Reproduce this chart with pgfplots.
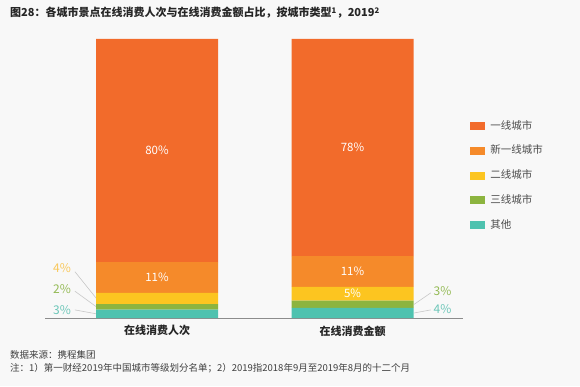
\documentclass[border=0pt]{standalone}
\usepackage{pgfplots}
\pgfplotsset{compat=1.18}
\usepackage{fontspec}
\setmainfont{Noto Sans CJK SC}
\definecolor{bgc}{HTML}{F8F8F8}
\definecolor{cA}{HTML}{F26B2B}
\definecolor{cB}{HTML}{F58A2A}
\definecolor{cC}{HTML}{FCC520}
\definecolor{cD}{HTML}{8CB43F}
\definecolor{cE}{HTML}{4EC2AF}
\definecolor{lblY}{HTML}{F8C85A}
\definecolor{lblG}{HTML}{94BA55}
\definecolor{lblT}{HTML}{6CC6B8}
\definecolor{leader}{HTML}{C8C8C8}
\tikzset{inlbl/.style={text=white, font=\fontsize{11.5}{13}\selectfont},
  outlbl/.style={font=\fontsize{12}{14}\selectfont},
  ldr/.style={draw=leader, line width=0.6pt}}
\begin{document}
\begin{tikzpicture}[x=1pt,y=1pt]
\fill[bgc] (0,0) rectangle (580,386);
\useasboundingbox (0,0) rectangle (580,386);
\node[anchor=west, inner sep=0pt, text=black!85, font=\bfseries\fontsize{11}{13}\selectfont] at (10,373) {图28：各城市景点在线消费人次与在线消费金额占比，按城市类型\textsuperscript{1}，2019\textsuperscript{2}};
\begin{axis}[
  at={(45pt,68pt)}, anchor=south west,
  scale only axis, width=418pt, height=279pt,
  xmin=-0.573, xmax=1.565, ymin=0, ymax=100,
  ybar stacked, bar width=122pt,
  axis x line*=bottom, axis y line=none,
  x axis line style={draw=black!45, line width=0.8pt, -},
  xtick={0,1}, xticklabels={在线消费人次,在线消费金额},
  major tick length=0pt,
  xticklabel style={font=\bfseries\fontsize{11}{13}\selectfont, text=black!85, yshift=-4pt},
  clip=false,
  reverse legend,
  legend cell align=left,
  legend style={at={(1.017,0.706)}, anchor=north west, draw=none, fill=none,
    inner sep=0pt, row sep=14.7pt,
    font=\fontsize{10.5}{12}\selectfont, text=black!70,
    nodes={inner xsep=5pt, inner ysep=0pt, text height=8pt, text depth=2pt}},
  legend image code/.code={\fill[#1,draw=none] (0pt,-4pt) rectangle (15pt,4pt);},
]
\addplot[fill=cE, draw=none] coordinates {(0,3) (1,3.6)};
\addlegendentry{其他}
\addplot[fill=cD, draw=none] coordinates {(0,2) (1,2.6)};
\addlegendentry{三线城市}
\addplot[fill=cC, draw=none] coordinates {(0,4) (1,5)};
\addlegendentry{二线城市}
\addplot[fill=cB, draw=none] coordinates {(0,11) (1,11)};
\addlegendentry{新一线城市}
\addplot[fill=cA, draw=none] coordinates {(0,80) (1,77.8)};
\addlegendentry{一线城市}
\coordinate (a1) at (axis cs:0,60);
\coordinate (a2) at (axis cs:0,14.5);
\coordinate (b1) at (axis cs:1,61.1);
\coordinate (b2) at (axis cs:1,16.7);
\coordinate (b3) at (axis cs:1,8.7);
\draw[ldr] (axis cs:-0.42,16.6) -- (axis cs:-0.31,7.0);
\draw[ldr] (axis cs:-0.42,9.6) -- (axis cs:-0.31,4.0);
\draw[ldr] (axis cs:-0.42,2.9) -- (axis cs:-0.31,1.5);
\node[outlbl, text=lblY] at (axis cs:-0.486,17.9) {4\%};
\node[outlbl, text=lblG] at (axis cs:-0.486,10.4) {2\%};
\node[outlbl, text=lblT] at (axis cs:-0.486,2.9) {3\%};
\draw[ldr] (axis cs:1.315,4.9) -- (axis cs:1.40,9.0);
\draw[ldr] (axis cs:1.315,1.8) -- (axis cs:1.40,2.9);
\node[outlbl, text=lblG] at (axis cs:1.46,9.7) {3\%};
\node[outlbl, text=lblT] at (axis cs:1.46,3.2) {4\%};
\end{axis}
\node[inlbl] at (a1) {80\%};
\node[inlbl] at (a2) {11\%};
\node[inlbl] at (b1) {78\%};
\node[inlbl] at (b2) {11\%};
\node[inlbl] at (b3) {5\%};
\node[anchor=west, inner sep=0pt, text=black!75, font=\fontsize{9.5}{11}\selectfont] at (10,31) {数据来源：携程集团};
\node[anchor=west, inner sep=0pt, text=black!75, font=\fontsize{9.5}{11}\selectfont] at (10,18) {注：1）第一财经2019年中国城市等级划分名单；2）2019指2018年9月至2019年8月的十二个月};
\end{tikzpicture}
\end{document}
